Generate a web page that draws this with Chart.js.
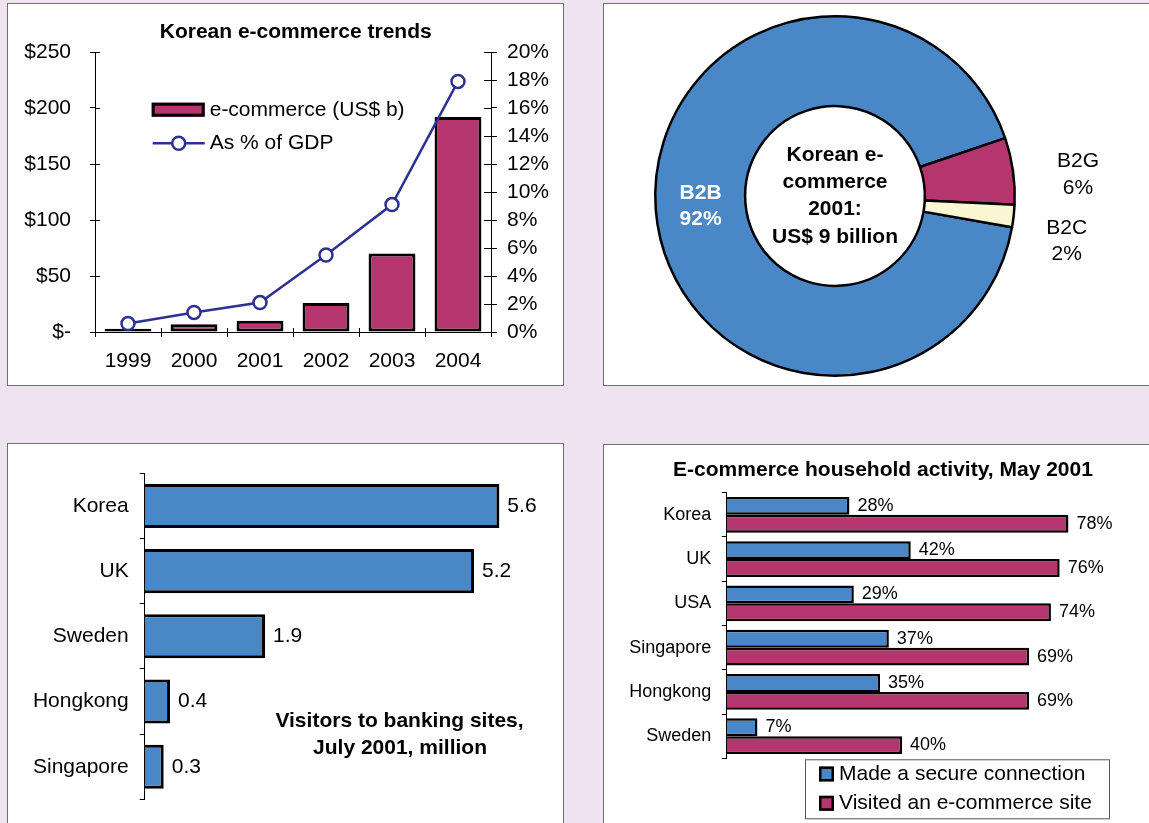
<!DOCTYPE html>
<html><head><meta charset="utf-8">
<script src="https://cdn.jsdelivr.net/npm/chart.js@4.4.1/dist/chart.umd.min.js"></script>
<style>
html,body{margin:0;padding:0;background:#EEE3EF;width:1149px;height:823px;overflow:hidden;}
body{position:relative;}
.panel{position:absolute;box-sizing:border-box;background:#fff;border:1px solid #707070;}
canvas{position:absolute;}
</style></head><body>
<div class="panel" style="left:7px;top:3px;width:557px;height:383px"></div>
<div class="panel" style="left:603px;top:3px;width:560px;height:383px"></div>
<div class="panel" style="left:7px;top:443px;width:557px;height:400px"></div>
<div class="panel" style="left:603px;top:444px;width:560px;height:400px"></div>
<canvas id="c1" width="557" height="383" style="left:7px;top:3px;width:557px;height:383px"></canvas>
<canvas id="c2" width="546" height="383" style="left:603px;top:3px;width:546px;height:383px"></canvas>
<canvas id="c3" width="557" height="380" style="left:7px;top:443px;width:557px;height:380px"></canvas>
<canvas id="c4" width="546" height="379" style="left:603px;top:444px;width:546px;height:379px"></canvas>
<script>
// ---------- DATA ----------
const years = ['1999','2000','2001','2002','2003','2004'];
const ecommerceUSDb = [3, 7, 10, 26, 70, 192];
const ecommercePctGDP = [0.6, 1.4, 2.1, 5.5, 9.1, 17.9];
const usdTickLabels = ['$-','$50','$100','$150','$200','$250'];
const pctTickLabels = ['0%','2%','4%','6%','8%','10%','12%','14%','16%','18%','20%'];

const segmentLabels = ['B2B','B2G','B2C'];
const segmentShares = [92, 6, 2];
const donutCentreLines = ['Korean e-','commerce','2001:','US$ 9 billion'];

const bankingCountries = ['Korea','UK','Sweden','Hongkong','Singapore'];
const bankingVisitors = [5.6, 5.2, 1.9, 0.4, 0.3];
const bankingNoteLines = ['Visitors to banking sites,','July 2001, million'];

const householdCountries = ['Korea','UK','USA','Singapore','Hongkong','Sweden'];
const secureConnection = [28, 42, 29, 37, 35, 7];
const visitedSite = [78, 76, 74, 69, 69, 40];

// ---------- STYLE ----------
const FONT = "'Liberation Sans', Arial, Helvetica, sans-serif";
const BLUE = '#4A87C6', MAGENTA = '#B5366F', CREAM = '#FAF5D3', NAVY = '#2E3192';
Chart.defaults.font.family = FONT;
Chart.defaults.color = '#000';
Chart.defaults.animation = false;

// ---------- PLUGINS ----------
const textPlugin = {
  id: 'texts',
  afterDraw(chart, args, opts) {
    const ctx = chart.ctx;
    (opts.items || []).forEach(it => {
      ctx.save();
      ctx.font = it.font; ctx.fillStyle = it.color || '#000';
      ctx.textAlign = it.align || 'center'; ctx.textBaseline = 'middle';
      ctx.fillText(it.text, it.x, it.y);
      ctx.restore();
    });
  }
};

const crossTicks = {
  id: 'crossTicks',
  afterDraw(chart) {
    const ctx = chart.ctx;
    ctx.save();
    ctx.strokeStyle = '#000'; ctx.lineWidth = 1;
    const y = chart.scales.y, y1 = chart.scales.y1, x = chart.scales.x;
    ctx.beginPath();
    y.ticks.forEach((t, i) => { const p = Math.round(y.getPixelForTick(i)) + 0.5; ctx.moveTo(y.right, p); ctx.lineTo(y.right + 5, p); });
    y1.ticks.forEach((t, i) => { const p = Math.round(y1.getPixelForTick(i)) + 0.5; ctx.moveTo(y1.left - 7, p); ctx.lineTo(y1.left, p); });
    const n = x.ticks.length;
    for (let i = 0; i <= n; i++) { const p = Math.round(x.left + i * x.width / n) + 0.5; ctx.moveTo(p, x.top - 4); ctx.lineTo(p, x.top); }
    ctx.stroke();
    ctx.restore();
  }
};

const legend1 = {
  id: 'legend1',
  afterDraw(chart, args, o) {
    const ctx = chart.ctx;
    const bar = chart.data.datasets[0], line = chart.data.datasets[1];
    ctx.save();
    ctx.fillStyle = bar.backgroundColor; ctx.fillRect(o.x, o.y, 53, 14);
    ctx.lineWidth = 3; ctx.strokeStyle = '#000'; ctx.strokeRect(o.x + 1.5, o.y + 1.5, 50, 11);
    const ly = o.y + 40.6;
    ctx.strokeStyle = line.borderColor; ctx.lineWidth = 2.5;
    ctx.beginPath(); ctx.moveTo(o.x + 1, ly); ctx.lineTo(o.x + 53, ly); ctx.stroke();
    ctx.beginPath(); ctx.arc(o.x + 27, ly, 6.5, 0, Math.PI * 2); ctx.fillStyle = '#fff'; ctx.fill(); ctx.stroke();
    ctx.fillStyle = '#000'; ctx.font = '21px ' + FONT; ctx.textAlign = 'left'; ctx.textBaseline = 'middle';
    ctx.fillText(bar.label, o.x + 58, o.y + 8);
    ctx.fillText(line.label, o.x + 58, ly);
    ctx.restore();
  }
};

const donutLabels = {
  id: 'donutLabels',
  afterDatasetsDraw(chart, args, opts) {
    const ctx = chart.ctx;
    const meta = chart.getDatasetMeta(0);
    const cx = meta.data[0].x, cy = meta.data[0].y;
    ctx.save();
    ctx.textAlign = 'center'; ctx.textBaseline = 'middle';
    ctx.font = 'bold 21px ' + FONT; ctx.fillStyle = '#000';
    const n = donutCentreLines.length;
    donutCentreLines.forEach((t, i) => ctx.fillText(t, cx, cy + (i - (n - 1) / 2) * 27.3));
    meta.data.forEach((arc, i) => {
      const p = arc.getProps(['startAngle','endAngle','innerRadius','outerRadius'], true);
      const mid = (p.startAngle + p.endAngle) / 2;
      const st = opts.styles[i];
      const r = st.inside ? (p.innerRadius + p.outerRadius) / 2 : p.outerRadius;
      const x = cx + Math.cos(mid) * r + st.dx, y = cy + Math.sin(mid) * r + st.dy;
      ctx.font = (st.bold ? 'bold ' : '') + '21px ' + FONT;
      ctx.fillStyle = st.color;
      ctx.fillText(chart.data.labels[i], x, y - 13.3);
      ctx.fillText(chart.data.datasets[0].data[i] + '%', x, y + 13.3);
    });
    ctx.restore();
  }
};

const barValues = {
  id: 'barValues',
  afterDatasetsDraw(chart, args, opts) {
    const ctx = chart.ctx;
    ctx.save();
    ctx.font = opts.size + 'px ' + FONT; ctx.fillStyle = '#000';
    ctx.textAlign = 'left'; ctx.textBaseline = 'middle';
    chart.data.datasets.forEach((ds, di) => {
      chart.getDatasetMeta(di).data.forEach((el, i) => {
        const v = ds.data[i];
        const txt = (opts.decimals ? v.toFixed(opts.decimals) : String(v)) + (opts.suffix || '');
        ctx.fillText(txt, el.x + opts.offset, el.y);
      });
    });
    ctx.restore();
  }
};

const legend4 = {
  id: 'legend4',
  afterDraw(chart, args, o) {
    const ctx = chart.ctx;
    ctx.save();
    ctx.strokeStyle = '#555'; ctx.lineWidth = 1;
    ctx.strokeRect(o.x + 0.5, o.y + 0.5, o.w, o.h);
    ctx.font = '21px ' + FONT; ctx.textAlign = 'left'; ctx.textBaseline = 'middle';
    chart.data.datasets.forEach((ds, i) => {
      const cy = o.y + 14.7 + i * 29.3;
      ctx.fillStyle = ds.backgroundColor; ctx.fillRect(o.x + 14, cy - 7.5, 15, 15);
      ctx.strokeStyle = '#000'; ctx.lineWidth = 2.5; ctx.strokeRect(o.x + 15.25, cy - 6.25, 12.5, 12.5);
      ctx.fillStyle = '#000'; ctx.fillText(ds.label, o.x + 34, cy);
    });
    ctx.restore();
  }
};

// ---------- CHART 1 ----------
new Chart(document.getElementById('c1'), {
  type: 'bar',
  data: {
    labels: years,
    datasets: [
      { type: 'bar', label: 'e-commerce (US$ b)', data: ecommerceUSDb, yAxisID: 'y',
        backgroundColor: MAGENTA, borderColor: '#000', borderWidth: 3, borderSkipped: false, order: 1,
        barPercentage: 0.71, categoryPercentage: 1 },
      { type: 'line', label: 'As % of GDP', data: ecommercePctGDP, yAxisID: 'y1',
        borderColor: NAVY, borderWidth: 2.5, pointRadius: 6.5, pointBorderWidth: 2.5,
        pointBackgroundColor: '#fff', pointBorderColor: NAVY, order: 0, tension: 0 }
    ]
  },
  options: {
    responsive: false, animation: false,
    layout: { padding: { top: 49, left: 0, right: 0, bottom: 0 } },
    plugins: {
      legend: { display: false }, tooltip: { enabled: false },
      texts: { items: [ { text: 'Korean e-commerce trends', x: 288.7, y: 29, font: 'bold 21px ' + FONT } ] },
      legend1: { x: 144.7, y: 99.7 }
    },
    scales: {
      x: { grid: { drawOnChartArea: false, color: '#000', tickLength: 5, offset: true },
           border: { color: '#000' },
           ticks: { font: { size: 21 }, padding: 12, color: '#000', autoSkip: false, maxRotation: 0 },
           afterFit: s => { s.height = 54; } },
      y: { position: 'left', min: 0, max: 250,
           grid: { drawOnChartArea: false, color: '#000', tickLength: 5 },
           border: { color: '#000' },
           ticks: { stepSize: 50, font: { size: 21 }, padding: 19, color: '#000', autoSkip: false,
                    callback: (v, i) => usdTickLabels[i] },
           afterFit: s => { s.width = 88; } },
      y1: { position: 'right', min: 0, max: 20,
           grid: { drawOnChartArea: false, color: '#000', tickLength: 6 },
           border: { color: '#000' },
           ticks: { stepSize: 2, font: { size: 21 }, padding: 10, color: '#000', autoSkip: false,
                    callback: (v, i) => pctTickLabels[i] },
           afterFit: s => { s.width = 73; } }
    }
  },
  plugins: [crossTicks, legend1, textPlugin]
});

// ---------- CHART 2 ----------
new Chart(document.getElementById('c2'), {
  type: 'doughnut',
  data: {
    labels: segmentLabels,
    datasets: [{ data: segmentShares, backgroundColor: [BLUE, MAGENTA, CREAM],
                 borderColor: '#000', borderWidth: 2.5 }]
  },
  options: {
    responsive: false, animation: false,
    rotation: 100, cutout: '50%',
    layout: { padding: { left: 51, top: 12, right: 133, bottom: 9 } },
    plugins: {
      legend: { display: false }, tooltip: { enabled: false },
      donutLabels: { styles: [
        { inside: true, dx: 0, dy: 0, color: '#fff', bold: true },
        { inside: false, dx: 65, dy: 3.7, color: '#000', bold: false },
        { inside: false, dx: 53, dy: 25, color: '#000', bold: false }
      ] }
    }
  },
  plugins: [donutLabels]
});

// ---------- CHART 3 ----------
new Chart(document.getElementById('c3'), {
  type: 'bar',
  data: {
    labels: bankingCountries,
    datasets: [{ label: 'Visitors to banking sites, July 2001, million', data: bankingVisitors,
                 backgroundColor: BLUE, borderColor: '#000', borderWidth: 3,
                 barPercentage: 0.675, categoryPercentage: 1 }]
  },
  options: {
    indexAxis: 'y', responsive: false, animation: false,
    layout: { padding: { top: 30.3, bottom: 21.3, right: 39.3, left: 0 } },
    plugins: {
      legend: { display: false }, tooltip: { enabled: false },
      barValues: { size: 21, decimals: 1, suffix: '', offset: 8 },
      texts: { items: [
        { text: bankingNoteLines[0], x: 392.5, y: 278.7, font: 'bold 21px ' + FONT },
        { text: bankingNoteLines[1], x: 393, y: 305.3, font: 'bold 21px ' + FONT }
      ] }
    },
    scales: {
      x: { display: false, min: 0, max: 6 },
      y: { grid: { drawOnChartArea: false, color: '#000', tickLength: 5, offset: true },
           border: { color: '#000' },
           ticks: { font: { size: 21 }, padding: 11, color: '#000', autoSkip: false },
           afterFit: s => { s.width = 137.7; } }
    }
  },
  plugins: [barValues, textPlugin]
});

// ---------- CHART 4 ----------
new Chart(document.getElementById('c4'), {
  type: 'bar',
  data: {
    labels: householdCountries,
    datasets: [
      { label: 'Made a secure connection', data: secureConnection, backgroundColor: BLUE,
        borderColor: '#000', borderWidth: 2.5, barPercentage: 1, categoryPercentage: 0.81 },
      { label: 'Visited an e-commerce site', data: visitedSite, backgroundColor: MAGENTA,
        borderColor: '#000', borderWidth: 2.5, barPercentage: 1, categoryPercentage: 0.81 }
    ]
  },
  options: {
    indexAxis: 'y', responsive: false, animation: false,
    layout: { padding: { top: 48.7, bottom: 64.7, right: 28, left: 0 } },
    plugins: {
      legend: { display: false }, tooltip: { enabled: false },
      barValues: { size: 18, decimals: 0, suffix: '%', offset: 8 },
      texts: { items: [ { text: 'E-commerce household activity, May 2001', x: 280, y: 26, font: 'bold 21px ' + FONT } ] },
      legend4: { x: 202, y: 315.3, w: 304, h: 59 }
    },
    scales: {
      x: { display: false, min: 0, max: 90 },
      y: { grid: { drawOnChartArea: false, color: '#000', tickLength: 5, offset: true },
           border: { color: '#000' },
           ticks: { font: { size: 18 }, padding: 10.5, color: '#000', autoSkip: false },
           afterFit: s => { s.width = 123.8; } }
    }
  },
  plugins: [barValues, legend4, textPlugin]
});
</script>
</body></html>
